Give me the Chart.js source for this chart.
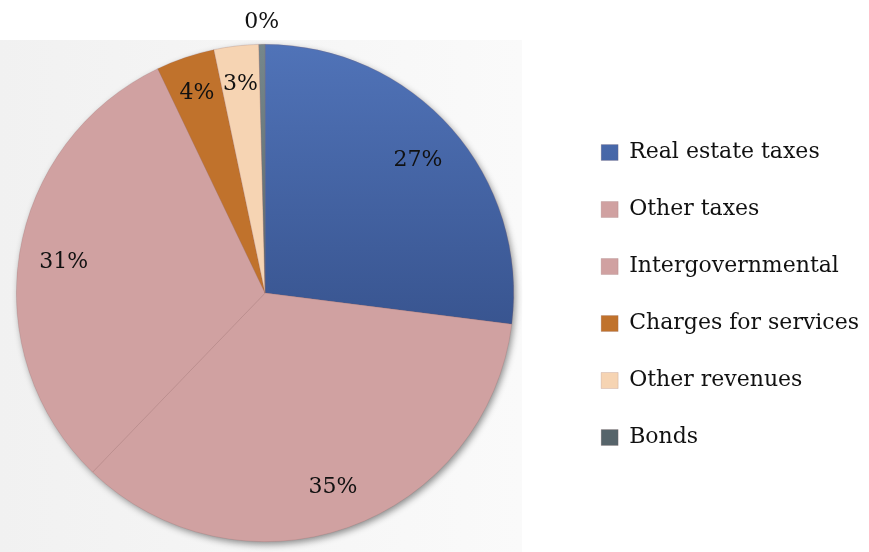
<!DOCTYPE html>
<html>
<head>
<meta charset="utf-8">
<title>Revenue sources</title>
<script src="https://cdn.jsdelivr.net/npm/chart.js@4.4.1/dist/chart.umd.min.js"></script>
<style>
  html, body { margin: 0; padding: 0; background: #fff; }
  #wrap { width: 869px; height: 552px; }
</style>
</head>
<body>
<div id="wrap"><canvas id="grafico"></canvas></div>
<script>
const fontes = ['Real estate taxes', 'Other taxes', 'Intergovernmental', 'Charges for services', 'Other revenues', 'Bonds'];
const parcelas = [27.0, 35.2, 30.7, 3.8, 2.9, 0.4];
const cores = ['#4a6db0', '#d0a1a1', '#d0a1a1', '#c0722c', '#f6d4b3', '#6c7c80'];

const serif = '"DejaVu Serif", "Liberation Serif", serif';

// blue and gray slices fade darker toward the bottom
function corFatia(c) {
  const i = c.dataIndex;
  const area = c.chart.chartArea;
  if (!area || (i !== 0 && i !== 5)) return cores[i];
  const g = c.chart.ctx.createLinearGradient(0, area.top, 0, area.top + area.height * 0.58);
  if (i === 0) {
    g.addColorStop(0, '#5073b8');
    g.addColorStop(1, '#38548f');
  } else {
    g.addColorStop(0, '#76878b');
    g.addColorStop(1, '#56646a');
  }
  return g;
}

// pie sits left of the middle of its area, legend stays at the right
const deslocar = {
  id: 'deslocar',
  afterLayout(chart) {
    const a = chart.chartArea;
    a.left -= 36;
    a.top -= 4;
    a.width = a.right - a.left;
    a.height = a.bottom - a.top;
  }
};

// page backdrop and the pie's soft drop shadow
const fundo = {
  id: 'fundo',
  beforeDraw(chart) {
    const ctx = chart.ctx;
    ctx.save();
    ctx.fillStyle = '#ffffff';
    ctx.fillRect(0, 0, chart.width, chart.height);
    const g = ctx.createLinearGradient(0, 0, 522, 0);
    g.addColorStop(0, '#f1f1f1');
    g.addColorStop(1, '#fafafa');
    ctx.fillStyle = g;
    ctx.fillRect(0, 40, 522, chart.height - 40);
    ctx.restore();
  },
  beforeDatasetsDraw(chart) {
    const arc = chart.getDatasetMeta(0).data[0];
    if (!arc) return;
    const ctx = chart.ctx;
    ctx.save();
    ctx.shadowColor = 'rgba(0,0,0,0.45)';
    ctx.shadowBlur = 7;
    ctx.shadowOffsetX = 2;
    ctx.shadowOffsetY = 3;
    ctx.fillStyle = '#d0a1a1';
    ctx.beginPath();
    ctx.arc(arc.x, arc.y, arc.outerRadius - 0.5, 0, Math.PI * 2);
    ctx.fill();
    ctx.restore();
  }
};

// percentage labels on each slice; tiny slices get theirs outside
const rotulos = {
  id: 'rotulos',
  afterDatasetsDraw(chart) {
    const ctx = chart.ctx;
    const dados = chart.data.datasets[0].data;
    const total = dados.reduce((a, b) => a + b, 0);
    ctx.save();
    ctx.font = '22px ' + serif;
    ctx.fillStyle = '#111';
    ctx.textAlign = 'center';
    ctx.textBaseline = 'middle';
    chart.getDatasetMeta(0).data.forEach((arc, i) => {
      const pct = dados[i] / total * 100;
      const meio = (arc.startAngle + arc.endAngle) / 2;
      let r = arc.outerRadius * 0.82;
      if (pct < 1) r = arc.outerRadius * 1.095;
      else if (pct < 5) r = arc.outerRadius * 0.855;
      const x = arc.x + Math.cos(meio) * r;
      const y = arc.y + Math.sin(meio) * r + 2;
      ctx.fillText(Math.round(pct) + '%', x, y);
    });
    ctx.restore();
  }
};

new Chart(document.getElementById('grafico'), {
  type: 'pie',
  data: {
    labels: fontes,
    datasets: [{
      data: parcelas,
      backgroundColor: corFatia,
      borderColor: 'rgba(140,100,100,0.35)',
      borderWidth: 0.6
    }]
  },
  options: {
    responsive: true,
    maintainAspectRatio: false,
    animation: false,
    events: [],
    layout: { padding: { left: 0, top: 48, bottom: 10, right: 0 } },
    plugins: {
      tooltip: { enabled: false },
      legend: {
        position: 'right',
        labels: {
          font: { family: serif, size: 22 },
          color: '#111',
          boxWidth: 17,
          boxHeight: 16,
          padding: 35
        }
      }
    }
  },
  plugins: [deslocar, fundo, rotulos]
});
</script>
</body>
</html>
